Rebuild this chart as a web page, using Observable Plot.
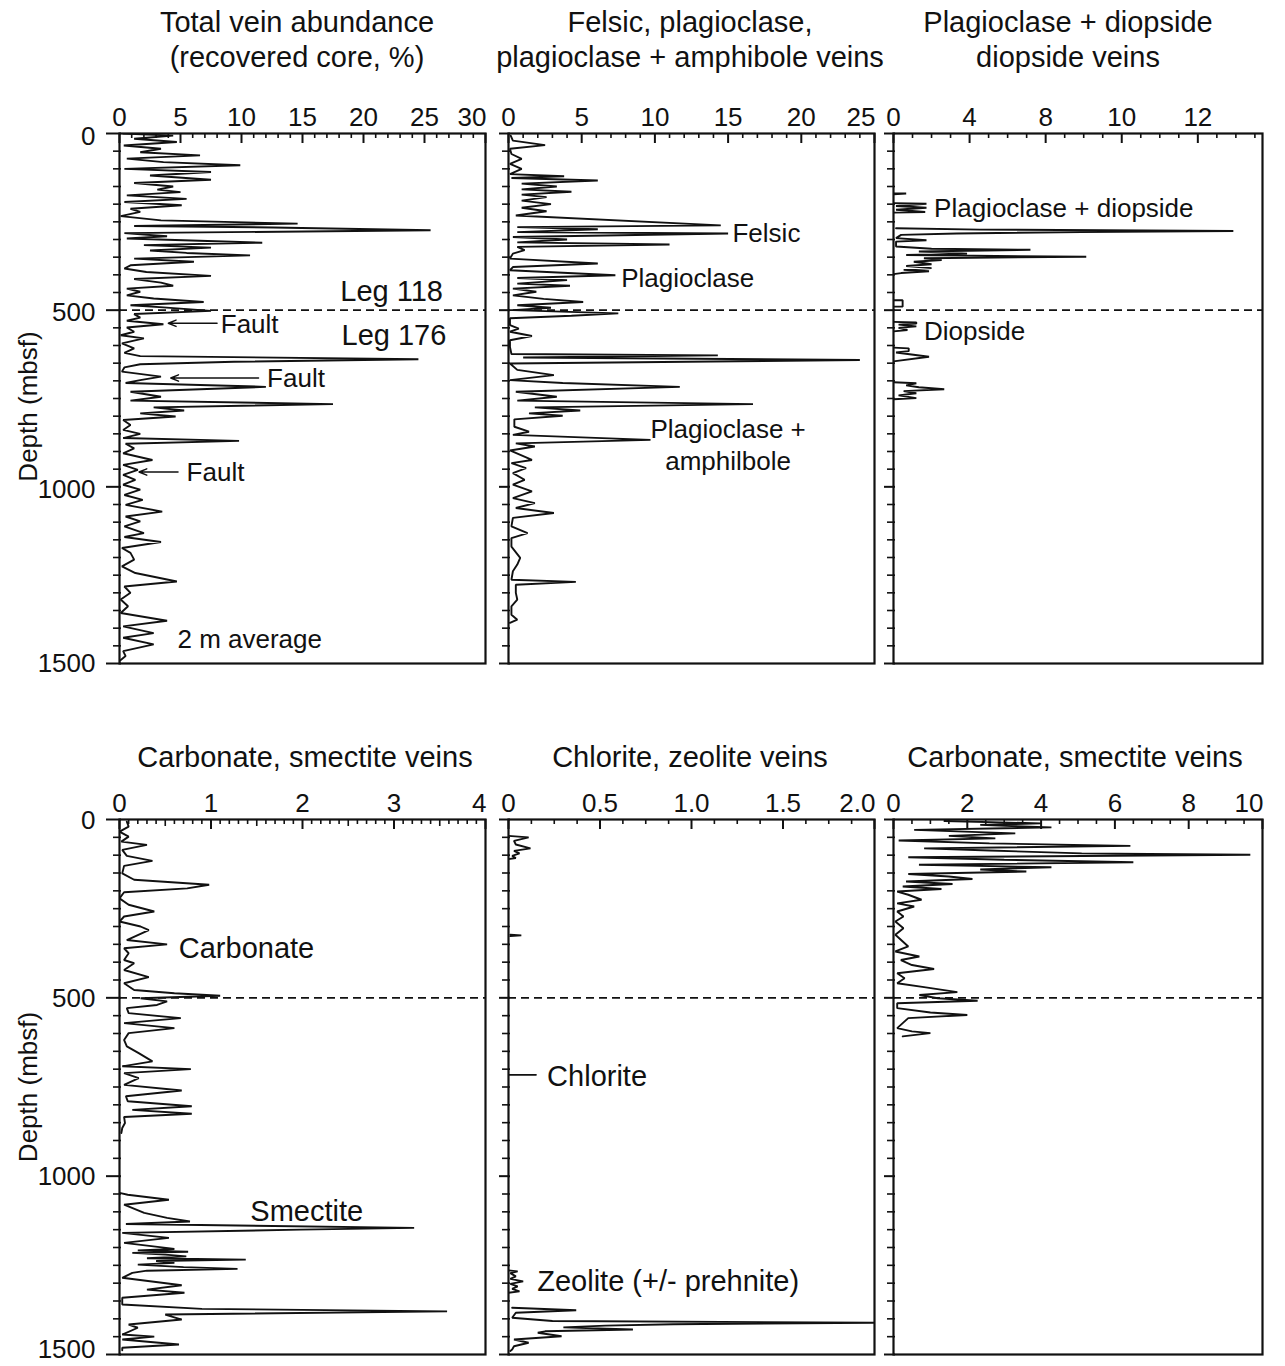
<!DOCTYPE html>
<html>
<head>
<meta charset="utf-8">
<script src="https://cdn.jsdelivr.net/npm/d3@7"></script>
<script src="https://cdn.jsdelivr.net/npm/@observablehq/plot@0.6"></script>
<style>
  body { margin: 0; background: #fff; }
  #fig { position: relative; width: 1285px; height: 1366px; font-family: "Liberation Sans", Arial, Helvetica, sans-serif; color: #111; }
  .title { position: absolute; width: 500px; text-align: center; font-size: 29px; line-height: 35px; white-space: nowrap; }
  .panel { position: absolute; }
  .panel svg { overflow: visible; }
</style>
</head>
<body>
<div id="fig"></div>
<script>
// ---------------- DATA (depth in mbsf, value in %) ----------------
const totalVeins = [[0,0.3],[6,4.4],[15,1.2],[24,4.7],[34,0.35],[43,3.4],[53,1.7],[62,6.6],[71,0.6],[81,3.6],[90,9.9],[100,0.4],[109,7.5],[119,2.5],[131,7.5],[140,1.2],[150,4.4],[159,3.1],[166,5.0],[175,0.6],[185,5.5],[194,0.4],[203,5.1],[213,0.9],[222,1.7],[234,0.1],[246,3.4],[255,14.6],[262,1.2],[266,12.6],[274,25.5],[282,0.4],[291,3.9],[297,0.6],[309,11.7],[316,2.0],[323,7.5],[331,2.5],[338,5.5],[345,10.7],[354,1.2],[363,6.1],[373,0.9],[382,0.4],[392,2.2],[403,7.5],[412,1.2],[422,3.4],[431,4.4],[439,0.6],[448,1.7],[458,0.6],[467,2.8],[477,6.9],[486,0.9],[492,3.6],[502,7.5],[511,1.2],[521,1.7],[530,0.6],[540,3.6],[549,0.6],[561,1.2],[571,0.1],[580,2.0],[594,0.2],[608,1.2],[621,0.4],[630,1.7],[639,24.5],[646,9.4],[653,1.7],[662,0.4],[674,0.2],[688,3.4],[698,1.7],[706,0.5],[717,12.0],[731,0.9],[745,3.4],[756,0.9],[766,17.5],[775,2.8],[784,5.3],[792,1.7],[801,4.6],[811,0.3],[825,0.9],[839,0.3],[850,1.7],[862,0.3],[870,9.8],[878,0.5],[891,1.2],[905,0.3],[924,2.7],[938,0.3],[952,1.5],[966,0.3],[980,1.3],[994,0.3],[1008,1.7],[1023,0.4],[1037,1.9],[1051,0.5],[1070,3.5],[1084,0.5],[1098,1.7],[1112,0.4],[1131,2.0],[1142,0.4],[1156,3.4],[1173,0.2],[1187,0.9],[1206,1.2],[1225,0.2],[1244,1.3],[1268,4.7],[1282,0.4],[1300,0.9],[1319,0.1],[1338,0.7],[1357,0.1],[1379,3.9],[1395,0.3],[1414,2.8],[1427,0.3],[1446,2.8],[1465,0.3],[1479,0.5],[1493,0]];

const felsicVeins = [[6,0.15],[20,0.3],[33,2.5],[43,0.1],[58,0.2],[72,0.9],[86,0.1],[100,0.9],[115,0.1],[121,3.8],[126,0.2],[133,6.1],[142,0.9],[150,3.3],[158,0.9],[165,4.3],[173,0.9],[180,2.6],[190,0.9],[200,2.9],[210,0.9],[220,2.6],[232,0.5],[260,14.5],[265,0.6],[271,6.1],[279,0.6],[283,15.0],[293,0.3],[300,4.0],[308,0.6],[314,11.0],[321,0.6],[330,1.1],[340,0.3],[354,0.1],[368,6.1],[378,0.3],[387,0.1],[401,7.3],[409,0.6],[415,4.0],[425,0.6],[431,4.2],[439,0.3],[448,1.9],[458,0.3],[468,2.4],[477,5.1],[486,0.6],[493,2.9],[500,0.3],[509,7.5],[516,4.3],[523,0.1],[542,0.1],[552,0.7],[561,0.1],[573,1.6],[585,0.1],[604,0.1],[624,0.2],[628,14.3],[634,1.0],[641,24.0],[651,0.1],[669,0.6],[684,3.1],[698,0.1],[706,3.7],[717,11.7],[731,0.5],[745,3.3],[756,0.6],[766,16.7],[775,1.8],[784,4.9],[792,1.4],[799,3.7],[809,0.4],[830,0.4],[844,1.4],[853,0.3],[867,9.7],[877,0.5],[886,1.8],[897,0.1],[924,1.6],[933,0.2],[947,1.2],[961,0.3],[980,1.1],[994,0.3],[1013,1.6],[1032,0.3],[1046,1.8],[1060,0.5],[1074,3.1],[1088,0.3],[1112,0.2],[1131,1.3],[1145,0.2],[1169,0.2],[1201,0.8],[1220,0.6],[1239,0.3],[1263,0.2],[1269,4.6],[1277,0.5],[1300,0.5],[1319,0.6],[1338,0.2],[1362,0.2],[1376,0.6],[1385,0.1]];

const diopsideVeins = [[170,0],[170,0.5],[172,0],null,
  [197,0],[199,1.3],[205,0.1],[210,1.3],[216,0.1],[222,1.25],[224,0],null,
  [268,0.1],[272,3.4],[276,13.4],[279,7.4],[283,2.5],[287,0.3],[296,0.1],[302,1.3],[306,0.1],[320,0.1],[326,1.5],[329,5.4],[334,1.0],[340,2.9],[344,0.5],[349,7.6],[353,1.2],[358,1.9],[363,0.8],[370,1.5],[375,0.5],[381,1.5],[386,0.4],[390,1.4],[395,0.3],[398,0],null,
  [472,0],[472,0.36],[490,0.36],[490,0],null,
  [533,0],[535,0.9],[538,0.9],[541,0.2],[546,0.9],[550,0.2],[556,0.55],[560,0],null,
  [606,0],[608,0.6],[616,0.6],[620,0.1],[632,1.4],[645,0],null,
  [704,0],[707,0.9],[713,0.5],[718,1.0],[724,2.0],[729,0.4],[735,0.9],[741,0.2],[749,0.9],[752,0]];

const carbonateSmectite = [[6,0.08],[20,0.1],[34,0.0],[48,0.1],[62,0.02],[71,0.3],[85,0.03],[102,0.08],[116,0.36],[130,0.05],[151,0.03],[169,0.16],[183,0.98],[193,0.74],[204,0.05],[221,0.0],[239,0.1],[258,0.38],[272,0.05],[286,0.0],[300,0.23],[310,0.32],[324,0.2],[338,0.08],[350,0.52],[361,0.05],[375,0.1],[394,0.05],[403,0.16],[422,0.05],[442,0.32],[459,0.05],[478,0.16],[487,0.6],[494,1.1],[501,0.23],[510,0.52],[520,0.41],[529,0.08],[543,0.1],[557,0.67],[571,0.05],[585,0.6],[599,0.1],[618,0.05],[636,0.08],[655,0.21],[678,0.36],[692,0.03],[700,0.78],[711,0.05],[725,0.21],[744,0.05],[760,0.68],[776,0.07],[790,0.09],[804,0.79],[814,0.14],[825,0.79],[834,0.05],[851,0.06],[865,0.03],[879,0.02],null,
  [1047,0.0],[1052,0.09],[1066,0.54],[1080,0.05],[1103,0.27],[1117,0.52],[1127,0.77],[1134,0.07],[1145,3.22],[1150,1.98],[1159,0.03],[1173,0.54],[1187,0.05],[1204,0.6],[1208,0.2],[1212,0.75],[1215,0.14],[1220,0.5],[1225,0.73],[1230,0.3],[1234,1.38],[1238,0.4],[1243,0.6],[1248,0.2],[1255,0.7],[1260,1.29],[1265,0.3],[1271,0.14],[1285,0.03],[1306,0.68],[1318,0.3],[1327,0.71],[1341,0.03],[1360,0.03],[1372,0.9],[1379,3.58],[1388,0.5],[1402,0.68],[1416,0.1],[1425,0.2],[1444,0.03],[1450,0.38],[1458,0.03],[1472,0.65],[1481,0.03],[1488,0.03]];

const chloriteZeolite = [[46,0],[50,0.11],[60,0.03],[70,0.04],[81,0.12],[88,0.03],[95,0.06],[102,0.02],[108,0.04],[111,0],null,
  [323,0.01],[325,0.07],[327,0.01],null,
  [716,0],[716,0.15],null,
  [1264,0],[1267,0.05],[1272,0.01],[1281,0.04],[1288,0.01],[1295,0.08],[1302,0.01],[1309,0.05],[1316,0.02],[1323,0.06],[1327,0],null,
  [1369,0.02],[1376,0.37],[1383,0.04],[1397,0.02],[1406,0.24],[1411,2.0],[1415,0.9],[1419,0.53],[1424,0.3],[1430,0.68],[1435,0.2],[1439,0.16],[1449,0.29],[1458,0.03],[1467,0.11],[1477,0.03],[1486,0.02],[1490,0.01]];

const carbonateSmectiteUpper = [[4,1.38],[11,4.0],[15,2.35],[22,4.28],[29,0.56],[39,3.3],[46,1.5],[53,2.76],[59,0.14],[67,2.6],[74,6.42],[81,0.83],[87,2.6],[95,5.1],[99,9.67],[106,0.4],[113,3.0],[120,6.5],[127,0.69],[134,4.28],[140,2.35],[146,3.6],[153,0.4],[160,1.5],[167,2.14],[174,0.34],[181,1.6],[188,0.25],[195,1.3],[202,0.1],[211,0.4],[225,0.76],[235,0.1],[244,0.56],[258,0.1],[272,0.27],[286,0.05],[305,0.27],[323,0.05],[356,0.4],[370,0.05],[384,0.7],[394,0.2],[408,0.5],[419,1.1],[431,0.1],[445,0.3],[459,0.1],[470,0.83],[484,1.73],[492,0.7],[501,1.2],[508,2.28],[515,0.1],[529,0.1],[541,1.0],[548,2.0],[557,0.4],[571,0.25],[585,0.1],[594,0.5],[599,1.0],[608,0.25]];

// ---------------- TICKS / LABELS ----------------
const depthMajor = [0, 500, 1000, 1500];
const tlTicks = [0, 5, 10, 15, 20, 25, 30];
const tlLabels = ["0", "5", "10", "15", "20", "25", "30"];
const tmTicks = [0, 5, 10, 15, 20, 25];
const tmLabels = ["0", "5", "10", "15", "20", "25"];
const trTicks = [0, 3, 6, 9, 12];
const trLabels = ["0", "4", "8", "10", "12"];
const blTicks = [0, 1, 2, 3, 4];
const blLabels = ["0", "1", "2", "3", "4"];
const bmTicks = [0, 0.5, 1, 1.5, 2];
const bmLabels = ["0", "0.5", "1.0", "1.5", "2.0"];
const brTicks = [0, 2, 4, 6, 8, 10];
const brLabels = ["0", "2", "4", "6", "8", "10"];

// ---------------- ANNOTATIONS (data coordinates) ----------------
const tlLegNotes = [
  {label: "Leg 118", v: 18.1, d: 449},
  {label: "Leg 176", v: 18.2, d: 571}
];
const tlNotes = [
  {label: "Fault", v: 8.3, d: 541},
  {label: "Fault", v: 12.1, d: 695},
  {label: "Fault", v: 5.5, d: 960},
  {label: "2 m average", v: 4.75, d: 1432}
];
const tlArrows = [
  {v1: 8.0, v2: 4.0, d: 537},
  {v1: 11.4, v2: 4.2, d: 692},
  {v1: 4.8, v2: 1.6, d: 958}
];
const tmNotes = [
  {label: "Felsic", v: 15.3, d: 284},
  {label: "Plagioclase", v: 7.7, d: 412}
];
const tmCentered = [{label: "Plagioclase +\namphilbole", v: 15.0, d: 878}];
const trNotes = [
  {label: "Plagioclase + diopside", v: 1.6, d: 213},
  {label: "Diopside", v: 1.2, d: 561}
];
const blNotes = [
  {label: "Carbonate", v: 0.648, d: 361},
  {label: "Smectite", v: 1.43, d: 1099}
];
const bmNotes = [
  {label: "Chlorite", v: 0.211, d: 720},
  {label: "Zeolite (+/- prehnite)", v: 0.157, d: 1295}
];

// ---------------- LAYOUT ----------------
const FONT = "Liberation Sans, Arial, Helvetica, sans-serif";
const INK = "#111";
const MG = 20;
const fig = document.getElementById("fig");

const titles = [
  {lines: ["Total vein abundance", "(recovered core, %)"], cx: 297, top: 5},
  {lines: ["Felsic, plagioclase,", "plagioclase + amphibole veins"], cx: 690, top: 5},
  {lines: ["Plagioclase + diopside", "diopside veins"], cx: 1068, top: 5},
  {lines: ["Carbonate, smectite veins"], cx: 305, top: 740},
  {lines: ["Chlorite, zeolite veins"], cx: 690, top: 740},
  {lines: ["Carbonate, smectite veins"], cx: 1075, top: 740}
];
for (const t of titles) {
  const div = document.createElement("div");
  div.className = "title";
  div.style.left = (t.cx - 250) + "px";
  div.style.top = t.top + "px";
  div.innerHTML = t.lines.join("<br>");
  fig.appendChild(div);
}

function toRows(series) {
  return series.map(p => p ? {d: p[0], v: p[1]} : {d: NaN, v: NaN});
}

function panel(cfg) {
  const fw = cfg.R - cfg.L, fh = cfg.B - cfg.T;
  const kx = cfg.xMax / fw, ky = 1500 / fh;
  const rows = toRows(cfg.series);
  const isMajor = x => cfg.ticks.some(t => Math.abs(t - x) < 1e-6);
  const isMedium = x => cfg.mediumStep && Math.abs(x / cfg.mediumStep - Math.round(x / cfg.mediumStep)) < 1e-6;
  const minor = d3.range(0, cfg.xMax + 1e-9, cfg.minorStep).filter(x => !isMajor(x) && !isMedium(x));
  const medium = cfg.mediumStep ? d3.range(0, cfg.xMax + 1e-9, cfg.mediumStep).filter(x => !isMajor(x)) : [];
  const depthMinor = d3.range(0, 1501, 50).filter(d => !depthMajor.includes(d));
  const n = cfg.ticks.length;
  const lastAtEdge = Math.abs(cfg.ticks[n - 1] - cfg.xMax) < 1e-6;
  const centerIdx = lastAtEdge ? d3.range(n - 1) : d3.range(n);
  const marks = [
    Plot.ruleY([500], {stroke: INK, strokeWidth: 1.7, strokeDasharray: "8,5"}),
    Plot.line(rows, {x: "v", y: "d", stroke: INK, strokeWidth: 1.9, strokeLinejoin: "miter", clip: true}),
    Plot.frame({stroke: INK, strokeWidth: 2.2}),
    Plot.ruleX(minor, {x: d => d, y1: 0, y2: 5 * ky, stroke: INK, strokeWidth: 1.6}),
    Plot.ruleX(medium, {x: d => d, y1: 0, y2: 7 * ky, stroke: INK, strokeWidth: 1.6}),
    Plot.ruleX(cfg.ticks, {x: d => d, y1: 0, y2: 10 * ky, stroke: INK, strokeWidth: 2}),
    Plot.ruleY(depthMinor, {y: d => d, x1: -6 * kx, x2: 2 * kx, stroke: INK, strokeWidth: 1.6}),
    Plot.ruleY(depthMajor, {y: d => d, x1: -(cfg.leftAxis ? 13 : 9) * kx, x2: 2 * kx, stroke: INK, strokeWidth: 2}),
    Plot.text(centerIdx, {x: i => cfg.ticks[i], text: i => cfg.labels[i], frameAnchor: "top", lineAnchor: "bottom", dy: -8, fontSize: 26, fill: INK})
  ];
  if (lastAtEdge) {
    marks.push(Plot.text([n - 1], {x: i => cfg.ticks[i], text: i => cfg.labels[i], frameAnchor: "top", lineAnchor: "bottom", textAnchor: "end", dy: -8, dx: 1, fontSize: 26, fill: INK}));
  }
  if (cfg.leftAxis) {
    const upper = depthMajor.slice(0, -1), last = depthMajor.slice(-1);
    marks.push(Plot.text(upper, {y: d => d, text: d => String(d), frameAnchor: "left", textAnchor: "end", dx: -24, dy: cfg.labelDy, fontSize: 26, fill: INK}));
    marks.push(Plot.text(last, {y: d => d, text: d => String(d), frameAnchor: "left", textAnchor: "end", dx: -24, dy: cfg.lastDy, fontSize: 26, fill: INK}));
    marks.push(Plot.text(["Depth (mbsf)"], {frameAnchor: "left", textAnchor: "middle", dx: -91, dy: cfg.titleDy, rotate: -90, fontSize: 26, fill: INK}));
  }
  if (cfg.notes) {
    marks.push(Plot.text(cfg.notes, {x: "v", y: "d", text: "label", textAnchor: "start", fontSize: cfg.noteSize, fill: INK}));
  }
  if (cfg.bigNotes) {
    marks.push(Plot.text(cfg.bigNotes, {x: "v", y: "d", text: "label", textAnchor: "start", fontSize: 29, fill: INK}));
  }
  if (cfg.centered) {
    marks.push(Plot.text(cfg.centered, {x: "v", y: "d", text: "label", textAnchor: "middle", lineHeight: 1.23, fontSize: cfg.noteSize, fill: INK}));
  }
  if (cfg.arrows) {
    marks.push(Plot.arrow(cfg.arrows, {x1: "v1", x2: "v2", y1: "d", y2: "d", stroke: INK, strokeWidth: 1.4, headLength: 9, headAngle: 45}));
  }
  const chart = Plot.plot({
    width: fw + 2 * MG,
    height: fh + 2 * MG,
    marginLeft: MG, marginRight: MG, marginTop: MG, marginBottom: MG,
    x: {domain: [0, cfg.xMax], axis: null},
    y: {domain: [0, 1500], reverse: true, axis: null},
    style: {background: "transparent", overflow: "visible", fontFamily: FONT, color: INK},
    marks
  });
  const div = document.createElement("div");
  div.className = "panel";
  div.style.left = (cfg.L - MG) + "px";
  div.style.top = (cfg.T - MG) + "px";
  div.style.width = (fw + 2 * MG) + "px";
  div.appendChild(chart);
  fig.appendChild(div);
}

panel({L: 119, R: 485, T: 133, B: 663, xMax: 30, ticks: tlTicks, labels: tlLabels, minorStep: 1, series: totalVeins, leftAxis: true, labelDy: 3, lastDy: 0, titleDy: 8, notes: tlNotes, bigNotes: tlLegNotes, noteSize: 26, arrows: tlArrows});
panel({L: 508, R: 874, T: 133, B: 663, xMax: 25, ticks: tmTicks, labels: tmLabels, minorStep: 1, series: felsicVeins, notes: tmNotes, noteSize: 26, centered: tmCentered});
panel({L: 893, R: 1262, T: 133, B: 663, xMax: 14.55, ticks: trTicks, labels: trLabels, minorStep: 0.75, series: diopsideVeins, notes: trNotes, noteSize: 26});
panel({L: 119, R: 485, T: 819, B: 1354, xMax: 4, ticks: blTicks, labels: blLabels, minorStep: 0.1, mediumStep: 0.5, series: carbonateSmectite, leftAxis: true, labelDy: 1, lastDy: -5, titleDy: 0, notes: blNotes, noteSize: 29});
panel({L: 508, R: 874, T: 819, B: 1354, xMax: 2, ticks: bmTicks, labels: bmLabels, minorStep: 0.125, series: chloriteZeolite, notes: bmNotes, noteSize: 29});
panel({L: 893, R: 1262, T: 819, B: 1354, xMax: 10, ticks: brTicks, labels: brLabels, minorStep: 0.5, series: carbonateSmectiteUpper});
</script>
</body>
</html>
